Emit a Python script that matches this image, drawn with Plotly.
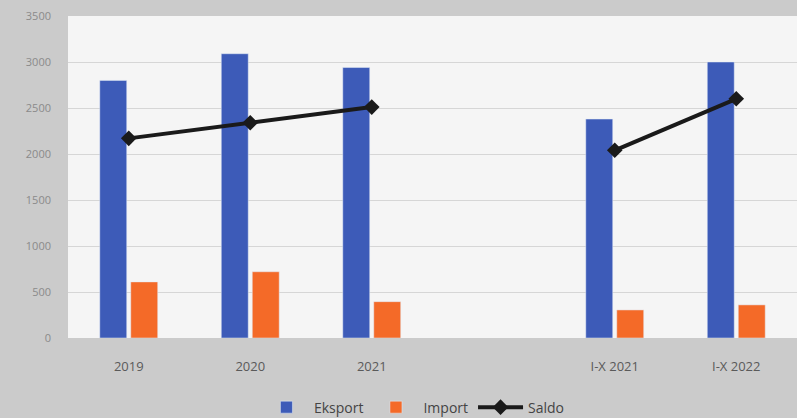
import plotly.graph_objects as go

categories = ["2019", "2020", "2021", " ", "I-X 2021", "I-X 2022"]
eksport = [2800, 3090, 2940, None, 2380, 3000]
import_ = [610, 720, 395, None, 305, 360]
saldo = [2170, 2340, 2510, None, 2040, 2600]

fig = go.Figure()
fig.add_trace(go.Bar(x=categories, y=eksport, name="Eksport", marker_color="#3D5BB8"))
fig.add_trace(go.Bar(x=categories, y=import_, name="Import", marker_color="#F46A28"))
fig.add_trace(go.Scatter(x=categories, y=saldo, name="Saldo", mode="lines+markers",
                         line=dict(color="#1a1a1a", width=4), connectgaps=False,
                         marker=dict(symbol="diamond", size=12, color="#1a1a1a")))

fig.update_layout(
    width=797, height=418,
    margin=dict(l=68, r=0, t=16, b=80),
    paper_bgcolor="#cbcbcb",
    plot_bgcolor="#f5f5f5",
    barmode="group", bargap=0.49, bargroupgap=0.13,
    font=dict(family="Open Sans, DejaVu Sans", color="#555555"),
    showlegend=True,
    legend=dict(orientation="h", xref="container", yref="container",
                x=0.52, xanchor="center", y=0.025, yanchor="middle",
                font=dict(size=14, color="#444444"), bgcolor="rgba(0,0,0,0)",
                itemwidth=45, traceorder="normal"),
)
fig.update_xaxes(range=[-0.5, 5.5], showgrid=False, tickfont=dict(size=13, color="#5a5a5a"),
                 ticklabelstandoff=19, showline=False)
fig.update_yaxes(range=[0, 3500], dtick=500, gridcolor="#d6d6d6", gridwidth=1,
                 tickfont=dict(size=11, color="#8a8a8a"), ticklabelstandoff=16,
                 zeroline=False)

fig.write_html("out.html")
